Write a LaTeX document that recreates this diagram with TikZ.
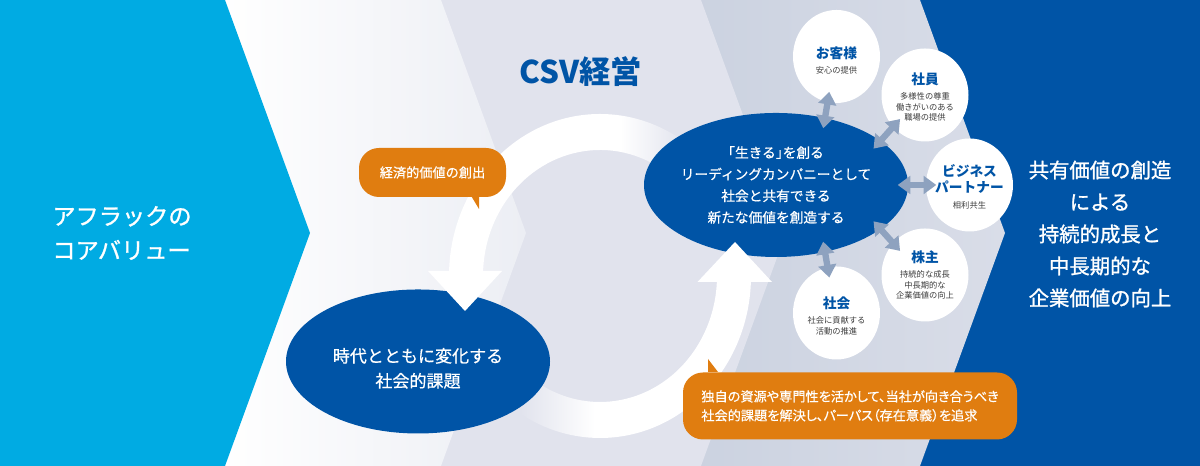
\documentclass[tikz,border=0pt]{standalone}
\usepackage{fontspec}
\setmainfont{Noto Sans CJK JP}
\newfontfamily\medfont[FakeBold=0.5]{Noto Sans CJK JP}
\newfontfamily\heavyfont[FakeBold=1.2]{Noto Sans CJK JP}
\newfontfamily\paltfont[FakeBold=0.5,RawFeature=+palt]{Noto Sans CJK JP}
\usetikzlibrary{arrows.meta,shapes.geometric}
\definecolor{aflacblue}{HTML}{0054A6}
\definecolor{aflaccyan}{HTML}{00ABE3}
\definecolor{bandtwo}{HTML}{ECEEF4}
\definecolor{bandthree}{HTML}{E1E3ED}
\definecolor{bandfourl}{HTML}{CBD2E0}
\definecolor{bandfourr}{HTML}{D9DDE8}
\definecolor{bubbleorange}{HTML}{E07D10}
\definecolor{linkblue}{HTML}{8EA2BF}
\definecolor{subgray}{HTML}{3C3C3C}
\def\headline#1{{\fontsize{3.9}{5.1}\selectfont\bfseries\color{aflacblue}#1}}
\def\topgap#1{\rule{0pt}{#1pt}}
\tikzset{
	bigoval/.style={ellipse, fill=aflacblue, text=white, inner xsep=-0.05cm, inner ysep=0, minimum width=2.64cm, minimum height=1.44cm, align=center},
	stakeholder/.style={ellipse, fill=white, text=subgray, inner xsep=-0.05cm, inner ysep=0, minimum width=0.87cm, minimum height=0.93cm, align=center, font=\fontsize{2.35}{2.95}\selectfont},
	bubble/.style={rectangle, rounded corners=0.2cm, fill=bubbleorange, text=white, inner sep=0, align=left},
	twoway/.style={draw=linkblue, line width=1.8pt, {Triangle[width=5pt,length=3.6pt]}-{Triangle[width=5pt,length=3.6pt]}, shorten <=-1.1mm, shorten >=-1.1mm}
}
\begin{document}
\begin{tikzpicture}
		%%%%% START %%%%%
		\useasboundingbox (0, 0) rectangle (12, 4.66);
		
		% bands
		\fill[aflacblue] (0, 0) rectangle (12, 4.66);
		\shade[left color=bandfourl, right color=bandfourr] (6.9, 4.66) -- (9.2, 4.66) -- (10.05, 2.33) -- (9.2, 0) -- (6.9, 0) -- cycle;
		\fill[bandthree] (4.3, 4.66) -- (7.01, 4.66) -- (7.86, 2.33) -- (7.01, 0) -- (4.3, 0) -- cycle;
		\shade[left color=white, middle color=bandtwo, right color=bandtwo] (2.2, 4.66) -- (4.41, 4.66) -- (5.26, 2.33) -- (4.41, 0) -- (2.2, 0) -- cycle;
		\fill[aflaccyan] (0, 4.66) -- (2.25, 4.66) -- (3.1, 2.33) -- (2.25, 0) -- (0, 0) -- cycle;
		
		% ring, upper part
		\begin{scope}
			\clip (4.49, 1.9) arc (180:58:1.51 and 1.62) -- ({6+1.17*cos(58)}, {1.9+1.26*sin(58)}) arc (58:180:1.17 and 1.26) -- cycle;
			\fill[white] (4.4, 1.9) rectangle (6.2, 3.6);
			\shade[left color=white, right color=bandthree] (6.2, 1.9) rectangle (6.85, 3.6);
		\end{scope}
		
		% ring, lower part
		\begin{scope}
			\clip (7.51, 1.9) arc (0:-125:1.51 and 1.62) -- ({6+1.17*cos(-125)}, {1.9+1.26*sin(-125)}) arc (-125:0:1.17 and 1.26) -- cycle;
			\fill[white] (5.95, 0.2) rectangle (7.6, 1.9);
			\shade[left color=bandthree, right color=white] (5.2, 0.2) rectangle (5.95, 1.9);
		\end{scope}
		
		\node[bigoval, font=\fontsize{4.85}{7.1}\selectfont\medfont] (issue) at (4.18, 1.045) {\topgap{8}時代とともに変化する\\社会的課題};
		\node[bigoval, font=\fontsize{3.9}{6.15}\selectfont\medfont] (core) at (7.76, 2.81) {\mbox{\kern-1.95pt「生きる」\kern-1.95pt を創る}\\リーディングカンパニーとして\\社会と共有できる\\新たな価値を創造する};
		
		\fill[white] (4.28, 1.95) -- (5.02, 1.95) -- (4.65, 1.55) -- cycle;
		\fill[white] (6.975, 1.84) -- (7.72, 1.84) -- (7.35, 2.24) -- cycle;
		
		% orange bubbles
		\fill[bubbleorange] (4.7, 2.72) -- (4.79, 2.72) -- (4.79, 2.57) -- cycle;
		\node[bubble, minimum width=1.47cm, minimum height=0.49cm, font=\fontsize{3.75}{5}\selectfont\medfont] (value) at (4.325, 2.935) {経済的価値の創出};
		\fill[bubbleorange] (7.08, 0.94) -- (7.18, 0.94) -- (7.08, 1.07) -- cycle;
		\node[bubble, minimum width=3.34cm, minimum height=0.67cm, font=\fontsize{3.75}{5.4}\selectfont\paltfont] (purpose) at (8.5, 0.6) {独自の資源や専門性を活かして、当社が向き合うべき\\社会的課題を解決し、パーパス（存在意義）を追求};
		
		% stakeholders
		\node[stakeholder] (customer) at (8.365, 4.095) {\topgap{5.7}\headline{お客様}\\[1.4pt]安心の提供};
		\node[stakeholder] (staff) at (9.25, 3.71) {\topgap{4.4}\headline{社員}\\[1.4pt]多様性の尊重\\働きがいのある\\職場の提供};
		\node[stakeholder] (partner) at (9.695, 2.81) {\topgap{4.4}\headline{ビジネス}\\\headline{パートナー}\\[1.4pt]相利共生};
		\node[stakeholder] (holder) at (9.25, 1.91) {\headline{株主}\\[1.4pt]持続的な成長\\中長期的な\\企業価値の向上};
		\node[stakeholder] (society) at (8.365, 1.53) {\topgap{5}\headline{社会}\\[1.4pt]社会に貢献する\\活動の推進};
		
		\draw[twoway] (core.54) -- (customer.259);
		\draw[twoway] (core.23) -- (staff.225);
		\draw[twoway] (core.0) -- (partner.180);
		\draw[twoway] (core.-23) -- (holder.135);
		\draw[twoway] (core.-54) -- (society.101);
		
		% texts
		\node[text=aflacblue, font=\fontsize{8.9}{10}\selectfont\bfseries] (title) at (5.81, 3.94) {CSV経営};
		\node[text=white, align=left, font=\fontsize{6.6}{9.7}\selectfont\heavyfont] (values) at (1.22, 2.33) {アフラックの\\コアバリュー};
		\node[text=white, align=center, font=\fontsize{5.8}{9.1}\selectfont\heavyfont] (result) at (11, 2.32) {共有価値の創造\\による\\持続的成長と\\中長期的な\\企業価値の向上};
		%%%%% END %%%%%
	\end{tikzpicture}
\end{document}
